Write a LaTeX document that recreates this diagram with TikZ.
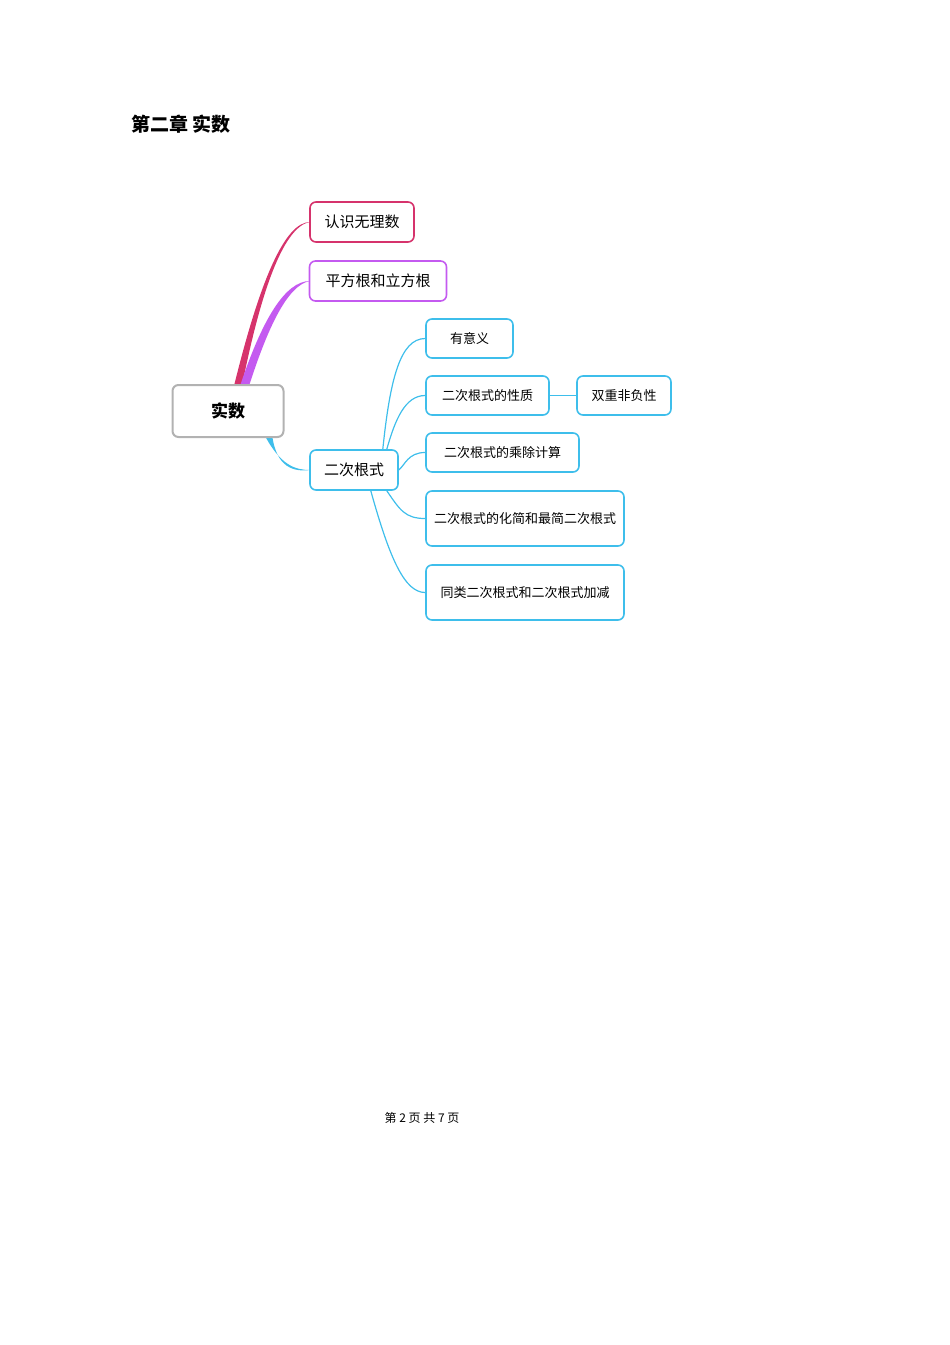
\documentclass[tikz,border=0pt]{standalone}
\usepackage{fontspec}
\newfontfamily\cjk{Noto Sans CJK SC}
\begin{document}
\begin{tikzpicture}[x=1pt,y=-1pt,
  box/.style={draw,rounded corners=6pt,line width=1.6pt,fill=white,inner sep=0pt,align=center,font=\cjk},
  big/.style={box,font=\cjk\fontsize{15}{17}\selectfont},
  small/.style={box,draw=cyan!70!blue!60,font=\cjk\fontsize{13}{15}\selectfont},
  twig/.style={draw=cyan!70!blue!60,line width=1.2pt}]
\definecolor{pinkc}{RGB}{214,51,108}
\definecolor{purpc}{RGB}{196,90,240}
\definecolor{cyanc}{RGB}{62,190,235}
\useasboundingbox (0,0) rectangle (950,1345);
\node[anchor=west,font=\cjk\bfseries\fontsize{19}{21}\selectfont] (title) at (128,124) {第二章\ 实数};
\node[font=\cjk\fontsize{12}{14}\selectfont] (foot) at (422,1118) {第 2 页 共 7 页};
% branches
\fill[pinkc] (234,386) .. controls (260,280) and (285,222) .. (310,222) .. controls (285,226) and (262,285) .. (242,386) -- cycle;
\fill[purpc] (240,386) .. controls (262,320) and (285,281) .. (310,281) .. controls (287,285) and (267,330) .. (249,386) -- cycle;
\fill[cyanc] (264,434) .. controls (280,465) and (295,470) .. (310,470) .. controls (294,472) and (276,468) .. (272,434) -- cycle;
\node[big,draw=gray!60,line width=2pt,minimum width=111pt,minimum height=52pt,font=\cjk\bfseries\fontsize{17}{19}\selectfont] (root) at (228,411) {实数};
\node[big,draw=pinkc,minimum width=104pt,minimum height=40pt] (a) at (362,222) {认识无理数};
\node[big,draw=purpc,minimum width=137pt,minimum height=40pt] (b) at (378,281) {平方根和立方根};
\node[big,draw=cyanc,minimum width=88pt,minimum height=40pt] (c) at (354,470) {二次根式};
\tikzset{small/.style={box,draw=cyanc,font=\cjk\fontsize{13}{14}\selectfont},twig/.style={draw=cyanc,line width=1.2pt}}
\node[small,minimum width=87pt,minimum height=39pt] (c1) at (469.5,338.5) {有意义};
\node[small,minimum width=123pt,minimum height=39pt] (c2) at (487.5,395.5) {二次根式的性质};
\node[small,minimum width=94pt,minimum height=39pt] (c21) at (624,395.5) {双重非负性};
\node[small,minimum width=153pt,minimum height=39pt] (c3) at (502.5,452.5) {二次根式的乘除计算};
\node[small,minimum width=198pt,minimum height=55pt,text width=186pt] (c4) at (525,518.5) {二次根式的化简和最简二次根式};
\node[small,minimum width=198pt,minimum height=55pt,text width=186pt] (c5) at (525,592.5) {同类二次根式和二次根式加减};
\draw[twig] ([xshift=-16pt]c.north east) .. controls (390,380) and (400,338.5) .. (c1.west);
\draw[twig] ([xshift=-12pt]c.north east) .. controls (395,420) and (405,395.5) .. (c2.west);
\draw[twig] (c.east) .. controls (405,465) and (408,452.5) .. (c3.west);
\draw[twig] ([xshift=-12pt]c.south east) .. controls (400,510) and (405,518.5) .. (c4.west);
\draw[twig] ([xshift=-28pt]c.south east) .. controls (390,560) and (405,592.5) .. (c5.west);
\draw[twig] (c2.east) -- (c21.west);
\end{tikzpicture}
\end{document}
